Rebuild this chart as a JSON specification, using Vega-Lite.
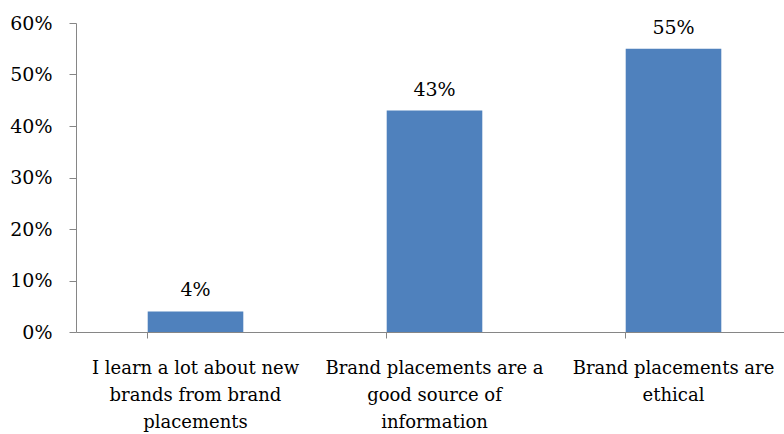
{
  "$schema": "https://vega.github.io/schema/vega-lite/v6.json",
  "autosize": {"type": "none"},
  "padding": {"left": 76, "top": 23, "right": 0, "bottom": 102},
  "width": 708,
  "height": 309,
  "background": "white",
  "config": {
    "view": {"stroke": null},
    "font": "DejaVu Serif",
    "axis": {"grid": false, "domainColor": "#868686", "tickColor": "#868686", "labelColor": "black", "labelFont": "DejaVu Serif", "labelFontSize": 19, "domainWidth": 1, "tickWidth": 1}
  },
  "data": {
    "values": [
      {"statement": "I learn a lot about new brands from brand placements", "share": 0.04},
      {"statement": "Brand placements are a good source of information", "share": 0.43},
      {"statement": "Brand placements are ethical", "share": 0.55}
    ]
  },
  "encoding": {
    "x": {
      "field": "statement", "type": "nominal", "sort": null,
      "scale": {"range": [0, 717], "paddingInner": 0.6, "paddingOuter": 0.3},
      "axis": {
        "title": null, "labelAngle": 0, "bandPosition": 0, "tickSize": 6, "labelPadding": 21,
        "labelLineHeight": 27, "labelBaseline": "top", "labelLimit": 300, "labelFontSize": 18,
        "labelExpr": "datum.value == 'I learn a lot about new brands from brand placements' ? ['I learn a lot about new', 'brands from brand', 'placements'] : datum.value == 'Brand placements are a good source of information' ? ['Brand placements are a', 'good source of', 'information'] : ['Brand placements are', 'ethical']"
      }
    },
    "y": {
      "field": "share", "type": "quantitative",
      "scale": {"domain": [0, 0.6], "nice": false},
      "axis": {"title": null, "format": ".0%", "values": [0, 0.1, 0.2, 0.3, 0.4, 0.5, 0.6], "tickSize": 7, "labelPadding": 17}
    }
  },
  "layer": [
    {"mark": {"type": "bar", "color": "#4F81BD"}},
    {
      "mark": {"type": "text", "dy": -15, "baseline": "alphabetic", "fontSize": 19, "font": "DejaVu Serif", "color": "black"},
      "encoding": {"text": {"field": "share", "type": "quantitative", "format": ".0%"}}
    }
  ]
}
